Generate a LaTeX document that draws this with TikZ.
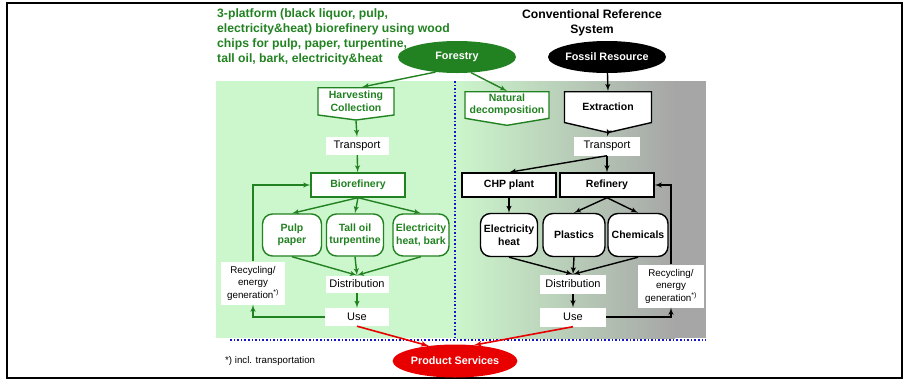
\documentclass[tikz,border=0pt]{standalone}
\usepackage{fontspec}
\setmainfont{Liberation Sans}
\usepackage{tikz}
\usetikzlibrary{shapes,arrows,positioning}
\definecolor{forest}{RGB}{34,130,34}
\definecolor{paleg}{RGB}{204,246,204}
\definecolor{fossilgray}{RGB}{166,166,166}
\definecolor{dotblue}{RGB}{20,20,200}
\definecolor{prodred}{RGB}{232,0,0}
\tikzstyle{gbox} = [rectangle, draw=forest, line width=1.4pt, fill=white, text=forest, font=\fontsize{10.5}{12.5}\selectfont\bfseries, align=center, inner sep=1pt]
\tikzstyle{kbox} = [rectangle, draw=black, line width=1.4pt, fill=white, font=\fontsize{10.5}{12.5}\selectfont\bfseries, align=center, inner sep=1pt]
\tikzstyle{gsig} = [gbox, signal, signal to=south]
\tikzstyle{ksig} = [kbox, signal, signal to=south]
\tikzstyle{gprod} = [gbox, rounded corners=10pt, minimum height=42pt]
\tikzstyle{kprod} = [kbox, rounded corners=10pt, minimum height=43pt]
\tikzstyle{plain} = [rectangle, fill=white, font=\fontsize{11}{12.5}\selectfont, align=center, inner sep=1pt]
\tikzstyle{recy} = [plain, font=\fontsize{9.8}{12.5}\selectfont, minimum height=43pt]
\tikzstyle{source} = [ellipse, text=white, font=\fontsize{10.8}{12.5}\selectfont\bfseries, inner sep=0pt, minimum height=32pt]
\tikzstyle{gline} = [draw=forest, line width=1.4pt, -latex']
\tikzstyle{kline} = [draw, line width=1.4pt, -latex']
\tikzstyle{rline} = [draw=prodred, line width=1.6pt, -latex']

\begin{document}
\begin{tikzpicture}[x=1pt, y=-1pt]
  \useasboundingbox (0,0) rectangle (905,381);
  % Frame and background
  \draw [line width=2.2pt] (7,3) rectangle (902,378);
  \fill [paleg] (216,81) rectangle (456,338);
  \shade [left color=paleg, right color=fossilgray] (455,81) rectangle (675,338);
  \fill [fossilgray] (674,81) rectangle (706,338);
  \draw [dotblue, line width=1.6pt, dotted] (455,81) -- (455,339);
  \draw [dotblue, line width=1.6pt, dotted] (230,340) -- (706,340);
  % Titles
  \node [anchor=north west, align=left, text=forest, inner sep=0pt,
    font=\fontsize{12.2}{15}\selectfont\bfseries] (title) at (217,8)
    {3-platform (black liquor, pulp,\\electricity\&heat) biorefinery using wood\\chips for pulp, paper, turpentine,\\tall oil, bark, electricity\&heat};
  \node [align=center, inner sep=0pt, font=\fontsize{12.2}{15}\selectfont\bfseries] (conv) at (592,23)
    {Conventional Reference\\System};
  \node [anchor=west, inner sep=0pt, font=\fontsize{9.7}{12}\selectfont] (note) at (225,361) {*) incl. transportation};
  % Place nodes: biorefinery system
  \node [source, fill=forest, minimum width=118pt] (forestry) at (457,57) {Forestry};
  \node [gsig, anchor=north, minimum width=76pt, minimum height=31pt, signal pointer angle=165] (harvest) at (356,87) {Harvesting\\Collection};
  \node [plain, minimum width=63pt, minimum height=18pt] (tranL) at (357,146) {Transport};
  \node [gbox, minimum width=94pt, minimum height=24pt] (bioref) at (358,185) {Biorefinery};
  \node [gprod, minimum width=59pt] (pulp) at (292,235) {Pulp\\paper};
  \node [gprod, minimum width=57pt] (tall) at (355,235) {Tall oil\\turpentine};
  \node [gprod, minimum width=56pt] (elecL) at (421,235) {Electricity\\heat, bark};
  \node [plain, minimum width=63pt, minimum height=17pt] (distL) at (357,284) {Distribution};
  \node [plain, minimum width=64pt, minimum height=18pt] (useL) at (357,317) {Use};
  \node [recy, minimum width=64pt] (recyL) at (253,283) {Recycling/\\energy\\generation\textsuperscript{*)}};
  % Place nodes: reference system
  \node [source, fill=black, minimum width=115pt] (fossil) at (607,57) {Fossil Resource};
  \node [gsig, anchor=north, minimum width=84pt, minimum height=33pt, signal pointer angle=161] (natural) at (507,91) {Natural\\decomposition};
  \node [ksig, anchor=north, minimum width=87pt, minimum height=37pt, signal pointer angle=154] (extract) at (608,91) {Extraction};
  \node [plain, minimum width=66pt, minimum height=19pt] (tranR) at (607,146) {Transport};
  \node [kbox, minimum width=94pt, minimum height=24pt] (chp) at (509,185) {CHP plant};
  \node [kbox, minimum width=94pt, minimum height=24pt] (refinery) at (607,185) {Refinery};
  \node [kprod, minimum width=57pt] (elecR) at (509,235) {Electricity\\heat};
  \node [kprod, minimum width=62pt] (plastics) at (574,235) {Plastics};
  \node [kprod, minimum width=60pt] (chem) at (638,235) {Chemicals};
  \node [plain, minimum width=66pt, minimum height=19pt] (distR) at (573,284) {Distribution};
  \node [plain, minimum width=66pt, minimum height=19pt] (useR) at (573,317) {Use};
  \node [recy, minimum width=66pt] (recyR) at (671,286) {Recycling/\\energy\\generation\textsuperscript{*)}};
  \node [source, fill=prodred, minimum width=115pt, minimum height=33pt] (product) at (455,361) {Product Services};
  % Draw edges: biorefinery system
  \path [gline] (forestry.215) -- ([xshift=6pt]harvest.north);
  \path [gline] (forestry.-48) -- (natural.north);
  \path [gline] (harvest.south) -- (tranL.north);
  \path [gline] (tranL) -- (bioref);
  \path [gline] (bioref.south) -- (pulp.north);
  \path [gline] (bioref.south) -- (tall.north);
  \path [gline] (bioref.south) -- (elecL.north);
  \path [gline] (pulp.south) -- (distL.north);
  \path [gline] (tall.south) -- (distL.north);
  \path [gline] (elecL.south) -- (distL.north);
  \path [gline] (distL) -- (useL);
  \path [gline] (useL.west) -| (recyL.south);
  \path [gline] (recyL.north) |- (bioref.west);
  % Draw edges: reference system
  \path [kline] (fossil) -- (extract.north);
  \path [kline] (extract.south) -- (tranR.north);
  \path [kline] (tranR) -- (refinery);
  \path [kline] (tranR.south) -- (chp.north);
  \path [kline] (chp) -- (elecR);
  \path [kline] (refinery.south) -- (plastics.north);
  \path [kline] (refinery.south) -- (chem.north);
  \path [kline] (elecR.south) -- (distR.north);
  \path [kline] (plastics.south) -- (distR.north);
  \path [kline] (chem.south) -- (distR.north);
  \path [kline] (distR) -- (useR);
  \path [kline] (useR.east) -| (recyR.south);
  \path [kline] (recyR.north) |- (refinery.east);
  % Product services
  \path [rline] (useL.south) -- (product.150);
  \path [rline] (useR.south) -- (product.40);
\end{tikzpicture}
\end{document}
